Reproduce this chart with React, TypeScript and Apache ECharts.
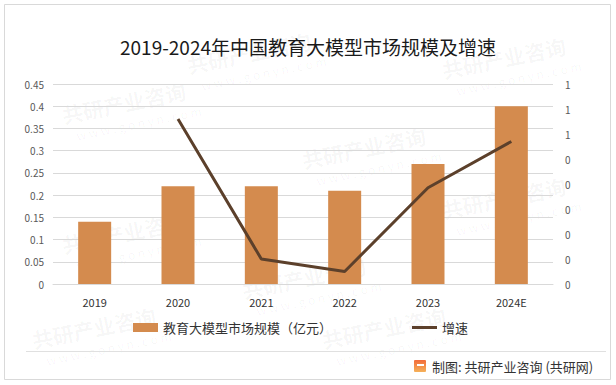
import React, { useEffect, useRef } from "react";
import * as echarts from "echarts";

const categories = ["2019", "2020", "2021", "2022", "2023", "2024E"];
const marketSize = [0.14, 0.22, 0.22, 0.21, 0.27, 0.4];
const growthRate = [null, 0.56, 0, -0.05, 0.285, 0.47];
const barName = "教育大模型市场规模（亿元）";
const lineName = "增速";
const titleText = "2019-2024年中国教育大模型市场规模及增速";
const sourceText = "制图: 共研产业咨询 (共研网)";

const FONT = "'Noto Sans CJK SC', 'Noto Sans', sans-serif";

function watermark(x: number, y: number) {
  return {
    type: "group",
    x,
    y,
    rotation: 0.2,
    silent: true,
    z: 0,
    children: [
      {
        type: "text",
        style: {
          text: "共研产业咨询",
          font: `bold 21px ${FONT}`,
          fill: "rgba(0,0,0,0.04)",
        },
      },
      {
        type: "text",
        x: 10,
        y: 27,
        style: {
          text: "w w w . g o n y n . c o m",
          font: `12px ${FONT}`,
          fill: "rgba(0,0,0,0.04)",
        },
      },
    ],
  };
}

export default function App() {
  const ref = useRef<HTMLDivElement>(null);
  useEffect(() => {
    if (!ref.current) return;
    const chart = echarts.init(ref.current, null, { renderer: "svg" });
    const legendText = { fontFamily: FONT, fontSize: 13, color: "#333" };
    chart.setOption({
      animation: false,
      backgroundColor: "#ffffff",
      title: {
        text: titleText,
        left: "center",
        top: 32,
        textStyle: {
          fontFamily: FONT,
          fontSize: 19,
          fontWeight: "normal",
          color: "#1a1a1a",
        },
      },
      legend: [
        {
          left: 133,
          top: 321,
          padding: 0,
          itemWidth: 25,
          itemHeight: 9,
          textStyle: legendText,
          data: [{ name: barName, icon: "rect" }],
        },
        {
          left: 412,
          top: 321,
          padding: 0,
          itemWidth: 25,
          itemHeight: 3,
          itemGap: 4,
          textStyle: legendText,
          data: [{ name: lineName, icon: "rect" }],
        },
      ],
      grid: { left: 53, right: 63, top: 84, bottom: 101 },
      xAxis: {
        type: "category",
        data: categories,
        axisLine: { lineStyle: { color: "#d9d9d9" } },
        axisTick: { show: false },
        axisLabel: { color: "#333", fontSize: 11, margin: 12, fontFamily: FONT },
      },
      yAxis: [
        {
          type: "value",
          min: 0,
          max: 0.45,
          interval: 0.05,
          axisLine: { show: false },
          axisTick: { show: false },
          axisLabel: {
            color: "#595959",
            fontSize: 10,
            margin: 9,
            fontFamily: FONT,
            formatter: (v: number) => String(parseFloat(v.toFixed(2))),
          },
          splitLine: { lineStyle: { color: "#d9d9d9" } },
        },
        {
          type: "value",
          min: -0.1,
          max: 0.7,
          interval: 0.1,
          axisLine: { show: false },
          axisTick: { show: false },
          splitLine: { show: false },
          axisLabel: {
            color: "#595959",
            fontSize: 10,
            margin: 12,
            fontFamily: FONT,
            formatter: (v: number) => String(Math.abs(Math.round(v))),
          },
        },
      ],
      series: [
        {
          name: barName,
          type: "bar",
          data: marketSize,
          barWidth: 33,
          itemStyle: { color: "#D48B4E" },
          z: 2,
        },
        {
          name: lineName,
          type: "line",
          yAxisIndex: 1,
          data: growthRate,
          symbol: "none",
          showSymbol: false,
          connectNulls: false,
          lineStyle: { color: "#5C402B", width: 3 },
          itemStyle: { color: "#5C402B" },
          z: 3,
        },
      ],
      graphic: [
        watermark(60, 105),
        watermark(185, 55),
        watermark(300, 150),
        watermark(440, 60),
        watermark(440, 200),
        watermark(60, 235),
        watermark(240, 280),
        watermark(320, 330),
        watermark(30, 330),
        {
          type: "rect",
          shape: { x: 4.5, y: 4.5, width: 606, height: 375 },
          style: { fill: "none", stroke: "#d9d9d9", lineWidth: 1 },
          silent: true,
        },
        {
          type: "line",
          shape: { x1: 26, y1: 351.5, x2: 606, y2: 351.5 },
          style: { stroke: "#e0e0e0", lineWidth: 1 },
          silent: true,
        },
        {
          type: "rect",
          shape: { x: 414, y: 360, width: 12, height: 12, r: 1 },
          style: {
            fill: new echarts.graphic.LinearGradient(0, 0, 0, 1, [
              { offset: 0, color: "#F26B3A" },
              { offset: 1, color: "#F5B15A" },
            ]),
          },
          silent: true,
        },
        {
          type: "rect",
          shape: { x: 417, y: 364, width: 7, height: 2 },
          style: { fill: "#ffffff" },
          silent: true,
        },
        {
          type: "text",
          x: 432,
          y: 366,
          style: {
            text: sourceText,
            font: `13px ${FONT}`,
            fill: "#333",
            verticalAlign: "middle",
          },
          silent: true,
        },
      ],
    });
    return () => chart.dispose();
  }, []);
  return (
    <div
      ref={ref}
      style={{ position: "fixed", left: 0, top: 0, width: 616, height: 385 }}
    />
  );
}
